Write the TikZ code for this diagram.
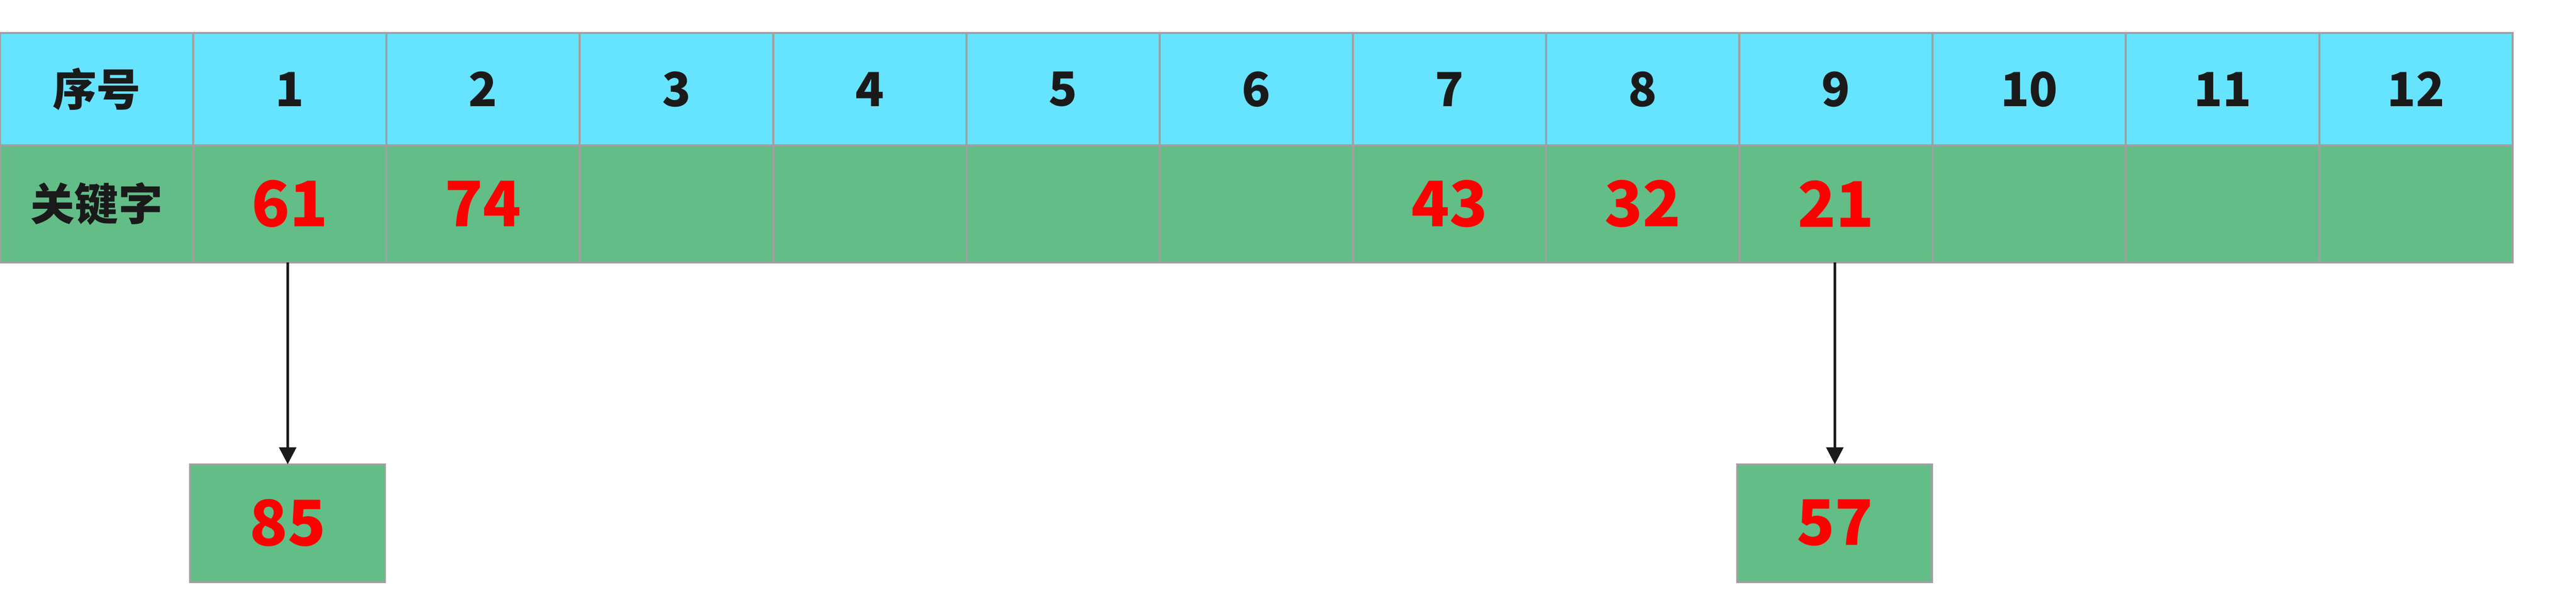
\documentclass[tikz,border=0pt]{standalone}
\usepackage{fontspec}
\newfontfamily\cjk{Noto Sans CJK SC}
\usetikzlibrary{arrows.meta}
\definecolor{hcyan}{HTML}{66E3FF}
\definecolor{kgreen}{HTML}{63BD87}
\definecolor{bgray}{HTML}{A0A0A0}
\definecolor{tdark}{HTML}{1A1A1A}
\definecolor{kred}{HTML}{FF0000}
\tikzset{
  cellbase/.style={draw=bgray, line width=1.3pt, inner sep=0pt, outer sep=0pt,
    minimum width=4.326cm, anchor=center},
  hcell/.style={cellbase, fill=hcyan, minimum height=2.51cm,
    font=\cjk\bfseries\fontsize{30}{32}\selectfont, text=tdark},
  hlabel/.style={hcell, font=\cjk\bfseries\fontsize{28}{30}\selectfont},
  kcell/.style={cellbase, fill=kgreen, minimum height=2.62cm,
    font=\cjk\bfseries\fontsize{40}{42}\selectfont, text=kred},
  klabel/.style={kcell, font=\cjk\bfseries\fontsize{28}{30}\selectfont, text=tdark},
  ovbox/.style={cellbase, fill=kgreen, minimum height=2.63cm, minimum width=4.36cm,
    font=\cjk\bfseries\fontsize{40}{42}\selectfont, text=kred},
  arr/.style={draw=tdark, line width=1.7pt, -{Triangle[width=0.38cm,length=0.38cm]}}
}
\begin{document}
\begin{tikzpicture}
\useasboundingbox (0,0) rectangle (57.66,-13.73);
\fill[white] (0,0) rectangle (57.66,-13.73);
% header row
\node[hlabel] (h0) at (2.163,-1.995) {序号};
\foreach \i in {1,...,12} {
  \node[hcell] (h\i) at ({(\i+0.5)*4.326},-1.995) {\i};
}
% key row
\node[klabel] (k0) at (2.163,-4.56) {关键字};
\node[kcell] (k1) at ({1.5*4.326},-4.56) {61};
\node[kcell] (k2) at ({2.5*4.326},-4.56) {74};
\node[kcell] (k3) at ({3.5*4.326},-4.56) {};
\node[kcell] (k4) at ({4.5*4.326},-4.56) {};
\node[kcell] (k5) at ({5.5*4.326},-4.56) {};
\node[kcell] (k6) at ({6.5*4.326},-4.56) {};
\node[kcell] (k7) at ({7.5*4.326},-4.56) {43};
\node[kcell] (k8) at ({8.5*4.326},-4.56) {32};
\node[kcell] (k9) at ({9.5*4.326},-4.56) {21};
\node[kcell] (k10) at ({10.5*4.326},-4.56) {};
\node[kcell] (k11) at ({11.5*4.326},-4.56) {};
\node[kcell] (k12) at ({12.5*4.326},-4.56) {};
% overflow boxes
\node[ovbox] (b1) at (6.44,-11.70) {85};
\node[ovbox] (b9) at (41.07,-11.70) {57};
% connectors
\draw[arr] (k1.south -| b1.north) -- (b1.north);
\draw[arr] (k9.south -| b9.north) -- (b9.north);
\end{tikzpicture}
\end{document}
